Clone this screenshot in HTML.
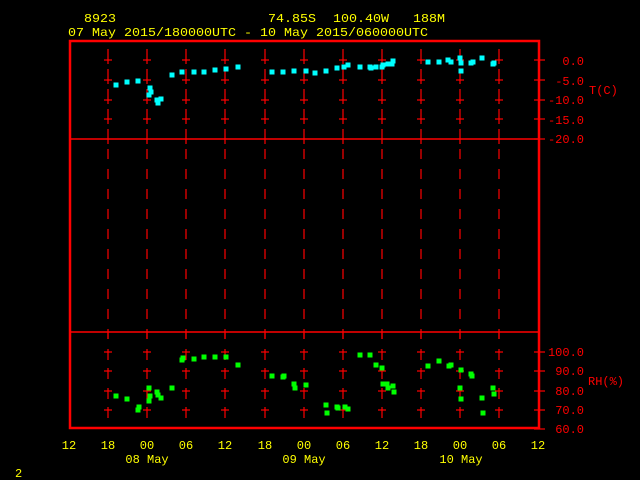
<!DOCTYPE html>
<html><head><style>
html,body{margin:0;padding:0;background:#000;width:640px;height:480px;overflow:hidden}
svg{display:block}
text{font-family:"Liberation Mono",monospace;font-size:12px}
</style></head><body>
<svg width="640" height="480" xmlns="http://www.w3.org/2000/svg">
<g fill="#ffff00">
<text x="84" y="22" textLength="32" lengthAdjust="spacingAndGlyphs">8923</text>
<text x="268" y="22" textLength="48" lengthAdjust="spacingAndGlyphs">74.85S</text>
<text x="333" y="22" textLength="56" lengthAdjust="spacingAndGlyphs">100.40W</text>
<text x="413" y="22" textLength="32" lengthAdjust="spacingAndGlyphs">188M</text>
<text x="68" y="36" textLength="360" lengthAdjust="spacingAndGlyphs">07 May 2015/180000UTC - 10 May 2015/060000UTC</text>
<g text-anchor="middle">
<text x="69" y="449">12</text><text x="108" y="449">18</text><text x="147" y="449">00</text><text x="186" y="449">06</text><text x="225" y="449">12</text><text x="265" y="449">18</text><text x="304" y="449">00</text><text x="343" y="449">06</text><text x="382" y="449">12</text><text x="421" y="449">18</text><text x="460" y="449">00</text><text x="499" y="449">06</text><text x="538" y="449">12</text>
<text x="147" y="463">08 May</text><text x="304" y="463">09 May</text><text x="461" y="463">10 May</text>
</g>
<text x="15" y="477">2</text>
</g>
<g stroke="#ff0000" fill="none">
<rect x="70" y="41" width="469" height="387" stroke-width="2.5"/>
<line x1="70" y1="139" x2="539" y2="139" stroke-width="1.5"/>
<line x1="70" y1="332" x2="539" y2="332" stroke-width="1.5"/>
</g>
<g stroke="#ff0000" stroke-width="1.2" id="grid"></g>
<g fill="#ff0000" text-anchor="end">
<text x="584" y="65">0.0</text><text x="584" y="85">-5.0</text><text x="584" y="104">-10.0</text><text x="584" y="124">-15.0</text><text x="584" y="143">-20.0</text>
<text x="584" y="356">100.0</text><text x="584" y="375">90.0</text><text x="584" y="395">80.0</text><text x="584" y="414">70.0</text><text x="584" y="433">60.0</text>
</g>
<g fill="#ff0000"><text x="589" y="94">T(C)</text><text x="588" y="385">RH(%)</text></g>
<g id="pts"></g>
</svg>
<script>
var ns="http://www.w3.org/2000/svg",g=document.getElementById('grid'),p=document.getElementById('pts');
function L(x1,y1,x2,y2){var l=document.createElementNS(ns,'line');l.setAttribute('x1',x1);l.setAttribute('y1',y1);l.setAttribute('x2',x2);l.setAttribute('y2',y2);g.appendChild(l);}
var xs=[108,147,186,225,265,304,343,382,421,460,499];
xs.forEach(function(x){
 for(var y=49;y<139;y+=20)L(x,y,x,y+15);
 for(var y=149;y<330;y+=20)L(x,y,x,y+10);
 L(x,332,x,339);
 [349,368,388,407].forEach(function(y){L(x,y,x,y+11);});
 [60,80,100,119,352,371,391,410].forEach(function(y){L(x-4,y,x+4,y);});
});
[60,80,100,119,139,352,371,391,410,429].forEach(function(y){L(534,y,545,y);});
function P(a,c){a.forEach(function(q){var r=document.createElementNS(ns,'rect');r.setAttribute('x',q[0]-2.5);r.setAttribute('y',q[1]-2.5);r.setAttribute('width',5);r.setAttribute('height',5);r.setAttribute('fill',c);p.appendChild(r);});}
P([[116,85],[127,82],[138,81],[150,88],[151,92],[149,95],[157,100],[161,99],[158,103],[172,75],[182,72],[194,72],[204,72],[215,70],[226,69],[238,67],[272,72],[283,72],[294,71],[306,71],[315,73],[326,71],[337,68],[344,67],[348,65],[360,67],[370,67],[371,68],[376,67],[382,67],[383,65],[388,64],[392,64],[393,61],[428,62],[439,62],[448,60],[451,62],[460,58],[461,63],[461,71],[471,63],[473,62],[482,58],[493,64],[494,63]],'#00ffff');
P([[116,396],[127,399],[138,410],[139,407],[149,388],[150,396],[149,401],[157,392],[158,395],[161,398],[172,388],[182,360],[183,358],[194,359],[204,357],[215,357],[226,357],[238,365],[272,376],[283,377],[284,376],[294,384],[295,388],[306,385],[326,405],[327,413],[337,407],[338,408],[345,407],[348,409],[360,355],[370,355],[376,365],[382,368],[383,384],[387,384],[388,388],[393,386],[394,392],[428,366],[439,361],[449,366],[451,365],[461,370],[460,388],[461,399],[471,374],[472,376],[482,398],[483,413],[493,388],[494,394]],'#00ff00');
</script>
</body></html>
